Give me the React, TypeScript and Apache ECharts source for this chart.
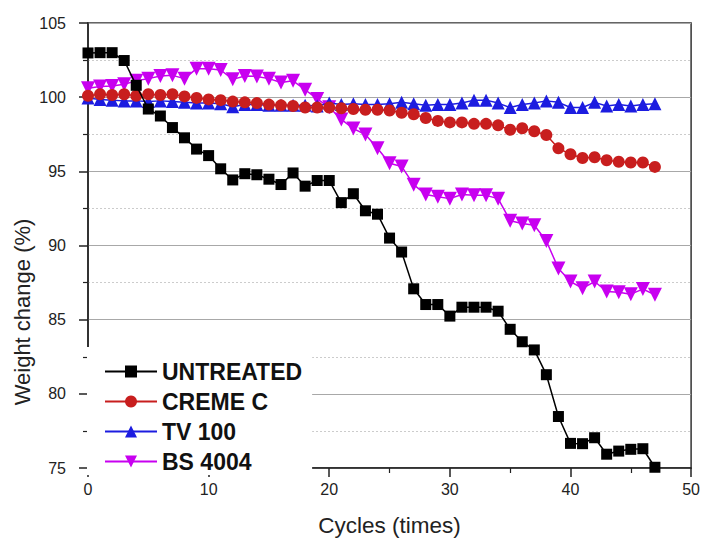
import React, { useEffect, useRef } from "react";
import * as echarts from "echarts";

const cycles = [0, 1, 2, 3, 4, 5, 6, 7, 8, 9, 10, 11, 12, 13, 14, 15, 16, 17, 18, 19, 20, 21, 22, 23, 24, 25, 26, 27, 28, 29, 30, 31, 32, 33, 34, 35, 36, 37, 38, 39, 40, 41, 42, 43, 44, 45, 46, 47];

const untreated = [102.98, 103.0, 103.0, 102.47, 100.8, 99.2, 98.73, 97.95, 97.26, 96.5, 96.06, 95.17, 94.42, 94.84, 94.77, 94.47, 94.11, 94.89, 94.0, 94.38, 94.38, 92.89, 93.49, 92.34, 92.11, 90.5, 89.56, 87.08, 86.02, 86.02, 85.24, 85.84, 85.84, 85.84, 85.57, 84.35, 83.51, 82.96, 81.29, 78.47, 76.66, 76.64, 77.04, 75.93, 76.14, 76.26, 76.3, 75.05];

const cremeC = [100.1, 100.2, 100.15, 100.2, 100.1, 100.2, 100.15, 100.2, 100.05, 99.95, 99.85, 99.8, 99.7, 99.65, 99.6, 99.5, 99.45, 99.4, 99.3, 99.3, 99.3, 99.25, 99.2, 99.15, 99.15, 99.1, 98.95, 98.85, 98.6, 98.4, 98.3, 98.3, 98.2, 98.2, 98.1, 97.8, 97.9, 97.7, 97.45, 96.55, 96.15, 95.9, 95.95, 95.75, 95.65, 95.6, 95.6, 95.3];

const tv100 = [99.95, 99.85, 99.8, 99.75, 99.75, 99.7, 99.75, 99.7, 99.65, 99.6, 99.6, 99.55, 99.35, 99.5, 99.5, 99.45, 99.45, 99.45, 99.45, 99.4, 99.6, 99.5, 99.55, 99.5, 99.5, 99.55, 99.65, 99.55, 99.45, 99.5, 99.5, 99.6, 99.8, 99.8, 99.6, 99.3, 99.5, 99.6, 99.75, 99.65, 99.3, 99.3, 99.65, 99.4, 99.5, 99.4, 99.5, 99.55];

const bs4004 = [100.6, 100.72, 100.75, 100.87, 101.1, 101.25, 101.43, 101.47, 101.25, 101.92, 101.92, 101.83, 101.2, 101.43, 101.4, 101.25, 100.99, 101.1, 100.5, 99.88, 99.32, 98.5, 97.88, 97.48, 96.55, 95.55, 95.33, 94.1, 93.44, 93.29, 93.16, 93.44, 93.38, 93.38, 93.16, 91.67, 91.49, 91.36, 90.3, 88.45, 87.57, 87.12, 87.57, 86.9, 86.85, 86.72, 87.06, 86.68];

const seriesNames = ["UNTREATED", "CREME C", "TV 100", "BS 4004"];
const seriesColors = ["#000000", "#c81e1e", "#1c1ce0", "#c800f0"];
const seriesSymbols = ["rect", "circle", "triangle", "path://M0,0 L10,0 L5,9 Z"];
const seriesSizes = [11, 12, 13, 14];
const seriesValues = [untreated, cremeC, tv100, bs4004];

const yTitle = "Weight change (%)";
const xTitle = "Cycles (times)";

const FONT = "'Liberation Sans', Arial, sans-serif";

export default function App() {
  const ref = useRef<HTMLDivElement>(null);
  useEffect(() => {
    if (!ref.current) return;
    const chart = echarts.init(ref.current, null, { renderer: "svg" });
    chart.setOption({
      animation: false,
      backgroundColor: "#ffffff",
      grid: {
        left: 88,
        top: 23,
        right: 11,
        bottom: 68,
        show: true,
        borderColor: "#333",
        borderWidth: 1.5,
        backgroundColor: "transparent",
      },
      legend: {
        left: 87,
        top: 347,
        orient: "vertical",
        backgroundColor: "#ffffff",
        padding: [13, 10, 2, 17],
        itemWidth: 52,
        itemHeight: 15,
        itemGap: 7,
        textStyle: {
          fontFamily: FONT,
          fontSize: 23,
          fontWeight: "bold",
          color: "#111",
          lineHeight: 22,
        },
        data: seriesNames,
      },
      graphic: [
        {
          type: "text",
          x: 22,
          y: 312,
          rotation: Math.PI / 2,
          style: {
            text: yTitle,
            fontFamily: FONT,
            fontSize: 22,
            fill: "#222",
            align: "center",
            verticalAlign: "middle",
          },
        },
      ],
      xAxis: {
        type: "value",
        min: 0,
        max: 50,
        interval: 10,
        name: xTitle,
        nameLocation: "middle",
        nameGap: 46,
        nameTextStyle: { fontFamily: FONT, fontSize: 22.5, color: "#222" },
        axisLine: { lineStyle: { color: "#222", width: 1.5 } },
        axisTick: { inside: false, length: 9, lineStyle: { color: "#222", width: 1.5 } },
        minorTick: { show: true, splitNumber: 2, length: 5, lineStyle: { color: "#222", width: 1.2 } },
        splitLine: { show: false },
        axisLabel: { fontFamily: FONT, fontSize: 16, color: "#222", margin: 13 },
      },
      yAxis: {
        type: "value",
        min: 75,
        max: 105,
        interval: 5,
        axisLine: { lineStyle: { color: "#222", width: 1.5 } },
        axisTick: { inside: false, length: 9, lineStyle: { color: "#222", width: 1.5 } },
        minorTick: { show: true, splitNumber: 2, length: 5, lineStyle: { color: "#222", width: 1.2 } },
        splitLine: { show: true, lineStyle: { color: "#a8a8a8", width: 1.2 } },
        minorSplitLine: { show: true, lineStyle: { color: "#cccccc", width: 1, type: [2, 2] } },
        axisLabel: { fontFamily: FONT, fontSize: 16, color: "#222", margin: 22 },
      },
      series: seriesNames.map((name, i) => ({
        name,
        type: "line",
        data: cycles.map((c, j) => [c, seriesValues[i][j]]),
        symbol: seriesSymbols[i],
        symbolSize: seriesSizes[i],
        lineStyle: { color: seriesColors[i], width: 1.5 },
        itemStyle: { color: seriesColors[i] },
        z: 10 - i,
      })),
    });
    return () => chart.dispose();
  }, []);
  return <div ref={ref} style={{ width: 703, height: 542, position: "absolute", left: 0, top: 0 }} />;
}
